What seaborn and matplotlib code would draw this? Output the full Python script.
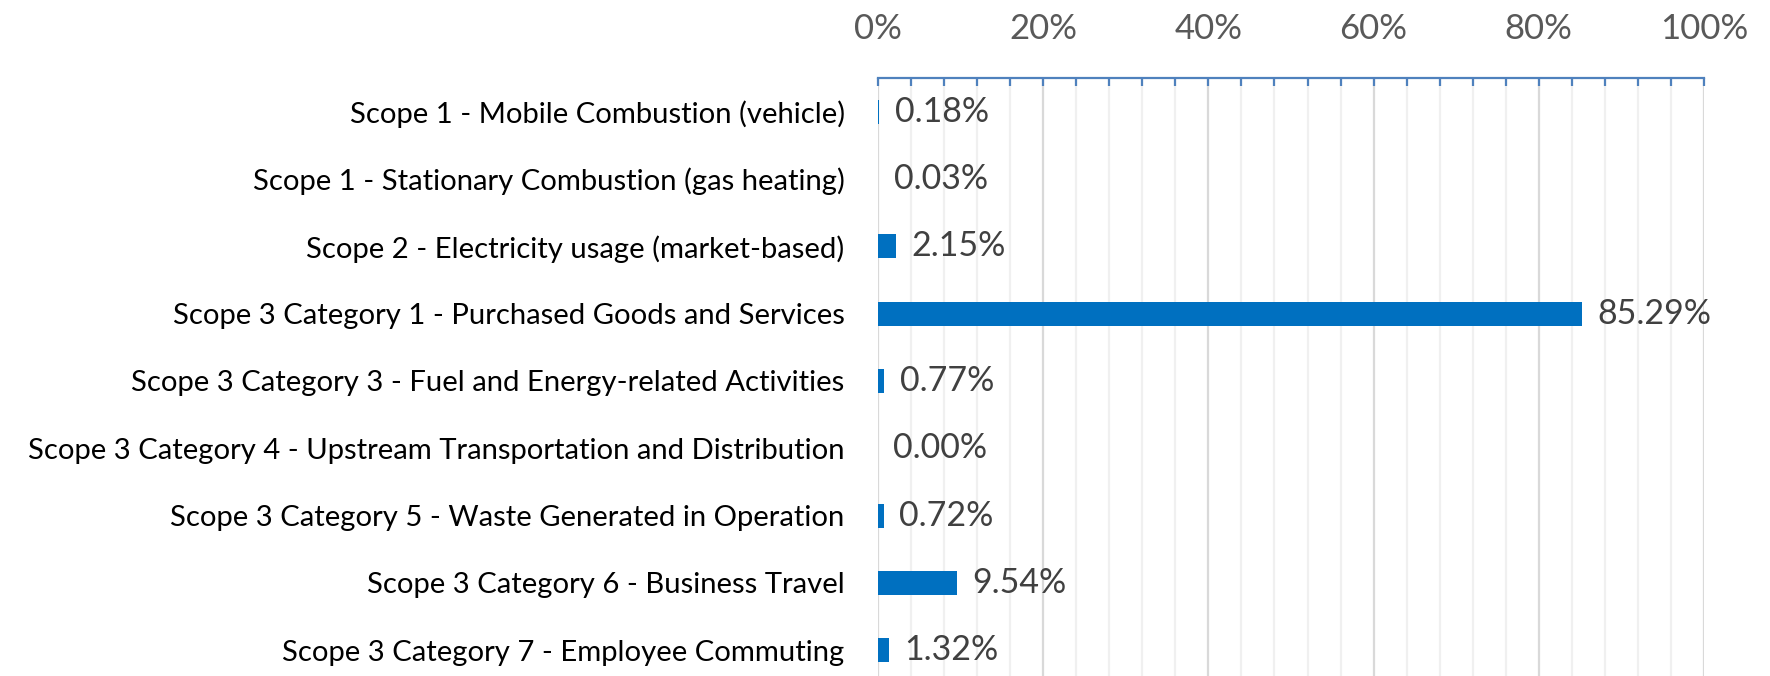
import matplotlib
matplotlib.use("Agg")
import matplotlib.pyplot as plt
from matplotlib.ticker import MultipleLocator, PercentFormatter
import pandas as pd
import seaborn as sns

# emission sources and their share of the total (%)
sources = [
    "Scope 1 - Mobile Combustion (vehicle)",
    "Scope 1 - Stationary Combustion (gas heating)",
    "Scope 2 - Electricity usage (market-based)",
    "Scope 3 Category 1 - Purchased Goods and Services",
    "Scope 3 Category 3 - Fuel and Energy-related Activities",
    "Scope 3 Category 4 - Upstream Transportation and Distribution",
    "Scope 3 Category 5 - Waste Generated in Operation",
    "Scope 3 Category 6 - Business Travel",
    "Scope 3 Category 7 - Employee Commuting",
]
shares = [0.18, 0.03, 2.15, 85.29, 0.77, 0.00, 0.72, 9.54, 1.32]

data = pd.DataFrame({"Source": sources, "Share": shares})

sns.set_style("white")
plt.rcParams["font.family"] = ["Lato", "DejaVu Sans"]

fig = plt.figure(figsize=(17.7, 6.76), dpi=100)
ax = fig.add_axes([878 / 1770, -8 / 676, 826 / 1770, (676 - 78 + 8) / 676])

sns.barplot(data=data, x="Share", y="Source", orient="h", color="#0070C0",
            saturation=1, width=0.36, linewidth=0, edgecolor="none", ax=ax)

# keep the very thin bars visible on the 0% line
for bar in ax.patches:
    bar.set_clip_on(False)
    bar.set_zorder(3)

ax.set_xlim(0, 100)
ax.xaxis.set_major_locator(MultipleLocator(20))
ax.xaxis.set_minor_locator(MultipleLocator(4))
ax.xaxis.set_major_formatter(PercentFormatter(decimals=0))
ax.xaxis.tick_top()

# grid lines behind the bars
ax.set_axisbelow(True)
ax.grid(axis="x", which="major", color="#D9D9D9", linewidth=1.6)
ax.grid(axis="x", which="minor", color="#F0F0F0", linewidth=1.6)
ax.grid(axis="y", visible=False)

for side in ["left", "right", "bottom"]:
    ax.spines[side].set_visible(False)
ax.spines["top"].set_color("#4F81BD")
ax.spines["top"].set_linewidth(1.6)

ax.tick_params(axis="x", which="both", direction="in", length=6, width=1.6,
               color="#4F81BD", top=True, bottom=False)
ax.tick_params(axis="x", which="major", labelsize=25, labelcolor="#595959", pad=23.5)
ax.tick_params(axis="y", length=0, labelsize=21.1, labelcolor="#000000", pad=24)

ax.set_xlabel("")
ax.set_ylabel("")

# value labels next to the bars
for i, v in enumerate(shares):
    ax.annotate(f"{v:.2f}%", xy=(v, i), xytext=(11, 0), textcoords="offset points",
                ha="left", va="center", fontsize=24.5, color="#404040")

fig.savefig("out.png", dpi=100)
